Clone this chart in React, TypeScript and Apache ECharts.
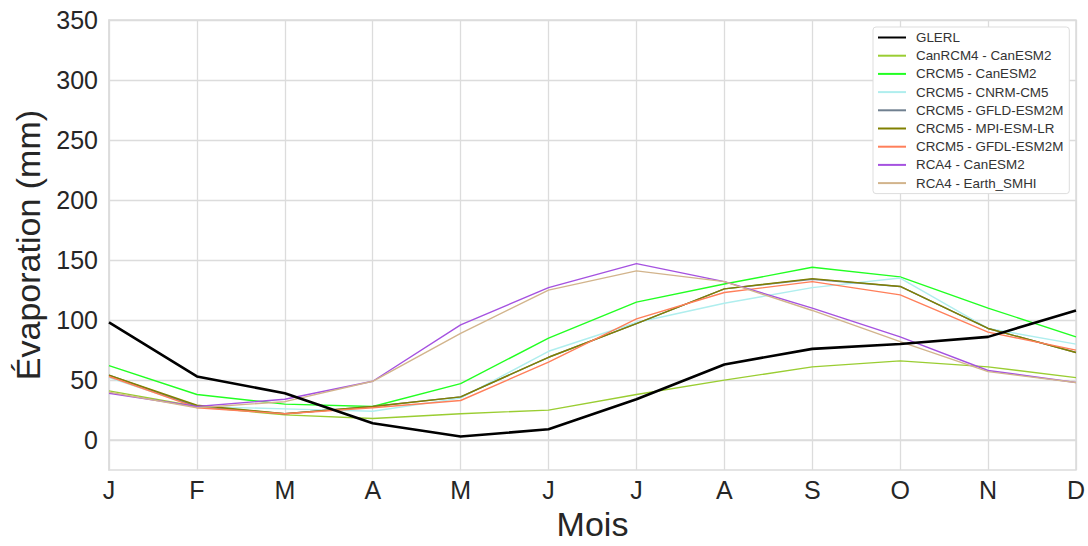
import React, { useEffect, useRef } from "react";
import * as echarts from "echarts";

const months = ["J", "F", "M", "A", "M", "J", "J", "A", "S", "O", "N", "D"];
const yTicks = [0, 50, 100, 150, 200, 250, 300, 350];

const glerl = [98, 53, 39, 14, 3, 9, 34, 63, 76, 80, 86, 108];
const canrcm4CanESM2 = [41, 28, 21, 18, 22, 25, 38, 50, 61, 66, 61, 52];
const crcm5CanESM2 = [62, 38, 30, 28, 47, 85, 115, 130, 144, 136, 110, 86];
const crcm5CNRM = [52, 28, 26, 24, 35, 74, 98, 114, 127, 135, 93, 80];
const crcm5GFLD = [54, 28, 22, 28, 36, 69, 97, 126, 134, 128, 93, 73];
const crcm5MPI = [54, 29, 22, 28, 36, 69, 97, 126, 134.5, 128, 93, 73];
const crcm5GFDL = [53, 27, 22, 27, 33, 65, 101, 123, 132, 121, 90, 75];
const rca4CanESM2 = [39, 28, 34, 49, 96, 127, 147, 132, 110, 86, 58, 48];
const rca4Earth = [40, 27, 32, 49, 89, 125, 141, 132, 108, 82, 57, 48];

const seriesDefs = [
  { name: "GLERL", data: glerl, color: "#000000", width: 2.6, z: 5 },
  { name: "CanRCM4 - CanESM2", data: canrcm4CanESM2, color: "#9acd32", width: 1.4, z: 2 },
  { name: "CRCM5 - CanESM2", data: crcm5CanESM2, color: "#22ff22", width: 1.4, z: 2 },
  { name: "CRCM5 - CNRM-CM5", data: crcm5CNRM, color: "#afeeee", width: 1.4, z: 2 },
  { name: "CRCM5 - GFLD-ESM2M", data: crcm5GFLD, color: "#708090", width: 1.4, z: 2 },
  { name: "CRCM5 - MPI-ESM-LR", data: crcm5MPI, color: "#808000", width: 1.4, z: 2 },
  { name: "CRCM5 - GFDL-ESM2M", data: crcm5GFDL, color: "#ff7f5a", width: 1.4, z: 2 },
  { name: "RCA4 - CanESM2", data: rca4CanESM2, color: "#a552e0", width: 1.4, z: 2 },
  { name: "RCA4 - Earth_SMHI", data: rca4Earth, color: "#d2b48c", width: 1.4, z: 2 },
];

const FONT = "Liberation Sans, Arial, sans-serif";
const TXT = "#262626";

export default function App() {
  const ref = useRef<HTMLDivElement>(null);
  useEffect(() => {
    document.body.style.margin = "0";
    if (!ref.current) return;
    const chart = echarts.init(ref.current, undefined, { renderer: "svg" });
    chart.setOption({
      animation: false,
      textStyle: { fontFamily: FONT },
      grid: {
        left: 109,
        right: 12,
        top: 20,
        bottom: 71,
        show: true,
        borderColor: "#dcdcdc",
        borderWidth: 1.5,
      },
      legend: {
        orient: "vertical",
        left: 873,
        top: 27,
        padding: [4, 6, 4, 4],
        itemWidth: 28,
        itemHeight: 14,
        itemGap: 5.2,
        backgroundColor: "#ffffff",
        borderColor: "#dddddd",
        borderWidth: 1,
        borderRadius: 3,
        itemStyle: { opacity: 0, borderWidth: 0 },
        textStyle: { fontFamily: FONT, fontSize: 13.4, color: "#333333", padding: [0, 0, 0, 5] },
        data: seriesDefs.map((s) => s.name),
      },
      xAxis: {
        type: "category",
        data: months,
        boundaryGap: false,
        name: "Mois",
        nameLocation: "middle",
        nameGap: 33,
        nameTextStyle: { fontSize: 34, color: TXT, fontFamily: FONT },
        axisLine: { show: true, lineStyle: { color: "#dcdcdc", width: 1.5 } },
        axisTick: { show: false },
        axisLabel: { fontSize: 25, color: TXT, margin: 7, fontFamily: FONT },
        splitLine: { show: true, lineStyle: { color: "#dcdcdc", width: 1.3 } },
      },
      yAxis: {
        type: "value",
        min: -25,
        max: 350,
        name: "Évaporation (mm)",
        nameLocation: "middle",
        nameGap: 52,
        nameTextStyle: { fontSize: 34, color: TXT, fontFamily: FONT },
        axisLine: { show: true, lineStyle: { color: "#dcdcdc", width: 1.5 } },
        axisTick: { show: false, customValues: yTicks },
        axisLabel: { fontSize: 25, color: TXT, margin: 11, fontFamily: FONT, customValues: yTicks },
        splitLine: { show: true, lineStyle: { color: "#dcdcdc", width: 1.3 } },
      },
      series: seriesDefs.map((s) => ({
        name: s.name,
        type: "line",
        data: s.data,
        symbol: "none",
        z: s.z,
        color: s.color,
        lineStyle: { color: s.color, width: s.width },
        emphasis: { disabled: true },
      })),
    });
    return () => chart.dispose();
  }, []);
  return <div ref={ref} style={{ width: 1088, height: 546 }} />;
}
